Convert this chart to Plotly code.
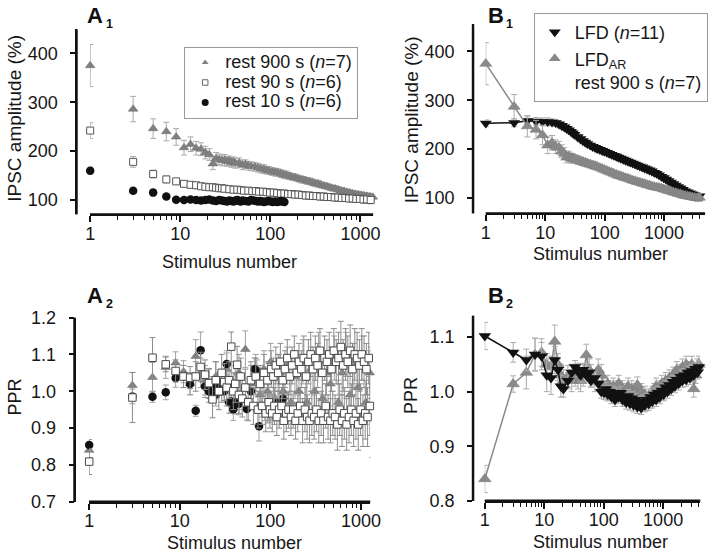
import plotly.graph_objects as go

# ---------------- data ----------------
# Panel A1: IPSC amplitude (%) vs stimulus number
a1_r900_x = [1, 3, 5, 7, 9, 11, 13, 15, 17, 19, 21, 23, 25, 27, 29, 31, 33, 35, 37, 39, 41, 45, 49, 53, 57, 61, 67, 73, 79, 85,
             91, 97, 105, 113, 121, 131, 141, 151, 163, 175, 189, 203, 219, 235, 253, 273, 293, 315, 339, 365, 393, 423, 455,
             489, 527, 567, 611, 657, 707, 761, 819, 881, 949, 1021, 1099, 1183, 1273, 1371]
a1_r900_y = [375, 286, 246, 240, 229, 207, 214, 206, 204, 197, 193, 174, 185, 183, 181, 182, 179, 180, 177, 178, 175, 176, 172,
             173, 170, 169, 168, 166, 164, 163, 161, 160, 158, 157, 156, 154, 152, 151, 149, 147, 146, 144, 142, 141, 139, 138,
             136, 134, 133, 131, 129, 128, 126, 124, 123, 121, 119, 118, 116, 115, 113, 112, 111, 110, 109, 108, 107, 106]
a1_r900_e = [43, 26, 20, 19, 17, 15, 15, 14, 13, 13, 12, 12, 12, 11, 11, 11, 10, 10, 10, 10, 10, 10, 10, 9, 9, 9, 9, 9, 9, 9,
             8, 8, 8, 8, 8, 8, 8, 8, 7, 7, 7, 7, 7, 7, 7, 7, 7, 7, 7, 6, 6, 6, 6, 6, 6, 6, 6, 6, 6, 6, 6, 6, 6, 6, 6, 6, 6, 6]

a1_r90_x = [1, 3, 5, 7, 9, 11, 13, 15, 17, 19, 21, 23, 25, 27, 29, 31, 35, 39, 43, 47, 51, 57, 63, 69, 75, 83, 91, 99, 109,
            119, 131, 143, 157, 171, 187, 205, 225, 247, 271, 297, 325, 357, 391, 429, 471, 517, 567, 621, 681, 747, 819,
            899, 985, 1081, 1185, 1299]
a1_r90_y = [242, 178, 153, 142, 138, 133, 131, 130, 128, 127, 126, 126, 125, 124, 124, 123, 122, 121, 121, 120, 119, 119, 118,
            118, 117, 117, 116, 115, 115, 114, 113, 113, 112, 112, 111, 111, 110, 109, 109, 108, 108, 107, 107, 106, 106, 105,
            105, 104, 104, 103, 103, 102, 102, 101, 101, 100]
a1_r90_e = [16, 11, 8, 7, 6, 6, 6, 6, 6, 6, 6, 6, 6, 6, 6, 6, 6, 6, 6, 6, 6, 6, 6, 6, 6, 6, 7, 7, 7, 7, 7, 7, 7, 7, 7, 7,
            7, 7, 7, 7, 7, 7, 7, 7, 7, 7, 7, 7, 7, 7, 7, 7, 7, 8, 8, 8]

a1_r10_x = [1, 3, 5, 7, 9, 11, 13, 15, 17, 19, 21, 23, 25, 27, 29, 31, 33, 35, 37, 39, 41, 43, 45, 47, 49, 53, 57, 61, 65, 69,
            73, 77, 81, 85, 89, 95, 101, 107, 113, 119, 125, 131, 137, 143]
a1_r10_y = [160, 119, 115, 107, 100.5, 100, 101, 100, 99, 100, 101, 99, 98, 100, 99, 98, 97, 99, 98, 97, 99, 100, 98, 97, 99,
            98, 97, 100, 99, 98, 97, 98, 97, 96, 97, 98, 97, 96, 97, 96, 97, 98, 97, 96]
a1_r10_e = [7, 5, 4, 4, 4, 3, 3, 3, 3, 3, 3, 3, 3, 3, 3, 3, 3, 3, 3, 3, 3, 3, 3, 3, 3, 3, 3, 3, 3, 3, 3, 3, 3, 3, 3, 3, 3,
            3, 3, 3, 3, 3, 3, 3]

# Panel B1
b_x = [1, 3, 5, 7, 9, 11, 13, 15, 17, 19, 21, 23, 25, 27, 29, 31, 35, 39, 43, 47, 51, 57, 63, 69, 75, 83, 91, 99, 109, 119,
       131, 143, 157, 171, 187, 205, 225, 247, 271, 297, 325, 357, 391, 429, 471, 517, 567, 621, 681, 747, 819, 899, 985,
       1081, 1185, 1299, 1425, 1563, 1713, 1879, 2061, 2259, 2477, 2717, 2979, 3267, 3583, 3929]
b1_lfd_y = [253, 254, 258, 257, 256, 256, 255, 254, 251, 248, 245, 242, 239, 236, 233, 230, 225, 221, 217, 214, 211, 208, 205,
            203, 201, 199, 197, 195, 193, 191, 189, 187, 185, 183, 181, 179, 177, 175, 173, 171, 169, 167, 165, 163, 161,
            159, 157, 155, 152, 150, 147, 144, 141, 138, 135, 132, 129, 126, 123, 120, 117, 114, 112, 110, 108, 106, 105, 104]
b1_lfd_e = [7, 8, 8, 8, 8, 8, 7, 7, 7, 7, 7, 6, 6, 6, 6, 6, 6, 6, 6, 6, 5, 5, 5, 5, 5, 5, 5, 5, 5, 5, 5, 5, 5, 5, 5, 5, 5,
            5, 5, 5, 5, 5, 5, 5, 5, 5, 5, 5, 5, 5, 5, 5, 5, 5, 5, 5, 5, 5, 5, 5, 5, 5, 5, 5, 5, 5, 5, 5]
b1_ar_y = [375, 287, 247, 240, 229, 208, 213, 205, 203, 196, 191, 183, 185, 182, 181, 180, 178, 176, 174, 172, 171, 169, 167,
           166, 164, 162, 160, 158, 156, 154, 152, 150, 148, 146, 145, 143, 141, 140, 138, 136, 135, 133, 132, 130, 129, 127,
           126, 124, 123, 122, 121, 120, 118, 117, 115, 114, 112, 111, 109, 108, 106, 105, 104, 103, 102, 101, 100, 101]
b1_ar_e = [43, 25, 22, 19, 20, 17, 15, 14, 13, 13, 12, 11, 11, 10, 10, 9, 9, 8, 8, 8, 7, 7, 7, 7, 6, 6, 6, 6, 6, 6, 6, 6, 6,
           6, 6, 6, 6, 6, 6, 6, 6, 6, 6, 6, 6, 6, 6, 6, 6, 6, 6, 6, 6, 6, 6, 6, 6, 6, 6, 6, 6, 6, 6, 6, 6, 6, 7, 8]

# Panel A2: PPR
a2_r900_x = [1, 3, 5, 7, 9, 11, 13, 15, 17, 19, 21, 25, 29, 33, 37, 41, 45,
             53, 61, 69, 77, 85, 93, 101, 113, 125, 139, 153, 169, 187, 207, 229, 253, 279, 309, 341, 377, 417, 461, 509,
             563, 621, 687, 759, 839, 927, 1025, 1133, 1251, 1361]
a2_r900_y = [0.840, 1.016, 1.038, 1.065, 1.077, 1.053, 1.021, 1.095, 1.05, 1.03, 1.02, 1.04, 1.01, 1.06, 1.03, 1.0, 1.05,
             1.114, 1.02, 1.05, 0.99, 1.06, 1.0, 1.08, 0.98, 1.05, 1.0, 1.07, 0.97, 1.04, 1.0, 1.08, 0.97, 1.06, 1.0, 1.1,
             0.98, 1.05, 1.02, 1.09, 0.97, 1.05, 1.1, 0.99, 1.07, 1.01, 1.09, 0.97, 1.05, 1.08]
a2_r900_e = [0.02, 0.035, 0.04, 0.03, 0.03, 0.03, 0.03, 0.045, 0.04, 0.04, 0.04, 0.04, 0.04, 0.05, 0.05, 0.05, 0.05,
             0.05, 0.05, 0.05, 0.05, 0.05, 0.05, 0.05, 0.05, 0.05, 0.05, 0.05, 0.06, 0.06, 0.06, 0.06, 0.06, 0.06, 0.06,
             0.06, 0.06, 0.06, 0.06, 0.06, 0.06, 0.06, 0.06, 0.06, 0.06, 0.06, 0.06, 0.06, 0.06, 0.06]

a2_r10_x = [1, 3, 5, 7, 9, 11, 13, 15, 17, 19, 21, 23, 25, 27, 29, 31, 33, 35, 37, 39, 41, 45, 49, 55, 61, 67, 71, 75, 81,
            87, 93, 99, 105, 111, 121, 131, 139]
a2_r10_y = [0.854, 0.986, 0.985, 0.997, 1.036, 1.04, 1.02, 0.947, 1.111, 1.013, 1.0, 1.01, 0.99, 1.02, 1.0, 1.0, 1.074,
            0.97, 0.972, 0.951, 0.968, 0.966, 0.98, 0.952, 1.0, 1.06, 1.055, 0.905, 0.96, 0.95, 0.944, 0.945, 0.955,
            0.954, 0.97, 0.96, 0.98]
a2_r10_e = [0.015, 0.02, 0.015, 0.02, 0.025, 0.03, 0.03, 0.015, 0.05, 0.03, 0.03, 0.03, 0.03, 0.03, 0.03, 0.03, 0.03, 0.03,
            0.03, 0.03, 0.03, 0.03, 0.03, 0.03, 0.03, 0.03, 0.03, 0.04, 0.03, 0.03, 0.03, 0.03, 0.03, 0.03, 0.03, 0.03, 0.03]

a2_r90_x = [1, 3, 5, 7, 9, 11, 13, 15, 17, 19, 21, 23, 25, 27, 29, 31, 33, 35, 37, 39, 41, 43, 45, 47, 49,
            53, 57, 61, 65, 69, 73, 77, 81, 85, 89,
            93, 96, 99, 102, 105, 108, 111, 115, 118, 122,
            125, 129, 133, 137, 141, 145, 150, 154, 159, 164,
            169, 174, 179, 184, 190, 196, 201, 207, 214, 220,
            227, 234, 241, 248, 255, 263, 271, 279, 287, 296,
            305, 314, 323, 333, 343, 353, 364, 375, 386, 397,
            409, 422, 434, 447, 461, 474, 489, 503, 518, 534,
            550, 566, 583, 601, 619, 637, 656, 676, 696, 717,
            739, 761, 784, 807, 831, 856, 882, 908, 935, 963,
            992, 1022, 1053, 1084, 1117, 1150, 1185, 1220, 1257, 1294,
            1333, 1373]
a2_r90_y = [0.809, 0.983, 1.091, 1.073, 1.055, 1.04, 1.037, 1.04, 1.066, 1.045, 1.022, 0.978, 1.03, 1.0, 1.05, 1.025, 1.01,
            1.03, 1.121, 1.0, 1.02, 1.072, 0.99, 1.04, 0.98,
            1.01, 0.97, 1.03, 0.96, 1.04, 0.95, 1.02, 0.96, 1.05, 0.94,
            1.03, 0.97, 0.95, 1.06, 0.94, 1.04, 0.96, 1.07, 0.93, 1.05,
            0.95, 1.08, 0.96, 1.03, 0.92, 1.06, 0.94, 1.09, 0.95, 1.04,
            0.93, 1.07, 0.95, 1.10, 0.92, 1.05, 0.94, 1.08, 0.96, 1.06,
            0.92, 1.09, 0.95, 1.04, 0.93, 1.08, 0.92, 1.10, 0.94, 1.06,
            0.93, 1.09, 0.95, 1.07, 0.92, 1.11, 0.94, 1.05, 0.92, 1.09,
            0.96, 1.08, 0.93, 1.10, 0.92, 1.06, 0.94, 1.11, 0.93, 1.08,
            0.91, 1.09, 0.95, 1.12, 0.92, 1.07, 0.94, 1.10, 0.91, 1.08,
            0.93, 1.11, 0.95, 1.06, 0.92, 1.10, 0.94, 1.09, 0.91, 1.07,
            0.95, 1.10, 0.92, 1.08, 0.94, 1.06, 0.93, 1.09, 0.96, 1.05,
            0.90, 1.04]
a2_r90_e = [0.035, 0.068, 0.055, 0.02, 0.03, 0.03, 0.03, 0.04, 0.04, 0.04, 0.04, 0.05, 0.05, 0.05, 0.05, 0.05, 0.05, 0.05,
            0.04, 0.05, 0.05, 0.05, 0.05, 0.05, 0.05,
            0.05, 0.05, 0.05, 0.05, 0.05, 0.05, 0.05, 0.05, 0.05, 0.05,
            0.05, 0.05, 0.05, 0.05, 0.05, 0.05, 0.05, 0.05, 0.05, 0.05,
            0.05, 0.05, 0.05, 0.05, 0.05, 0.05, 0.05, 0.05, 0.05, 0.05,
            0.05, 0.05, 0.05, 0.05, 0.05, 0.05, 0.05, 0.05, 0.05, 0.05,
            0.06, 0.06, 0.06, 0.06, 0.06, 0.06, 0.06, 0.06, 0.06, 0.06,
            0.06, 0.06, 0.06, 0.06, 0.06, 0.06, 0.06, 0.06, 0.06, 0.06,
            0.06, 0.06, 0.06, 0.06, 0.06, 0.06, 0.06, 0.06, 0.06, 0.06,
            0.07, 0.07, 0.07, 0.07, 0.07, 0.07, 0.07, 0.07, 0.07, 0.07,
            0.07, 0.07, 0.07, 0.07, 0.07, 0.07, 0.07, 0.07, 0.07, 0.07,
            0.07, 0.07, 0.07, 0.07, 0.07, 0.07, 0.08, 0.07, 0.08, 0.07,
            0.08, 0.07]

# Panel B2: PPR
b2_x = [1, 3, 5, 7, 9, 11, 13, 15, 17, 19, 21, 25, 29, 33, 37, 41, 45, 51, 57, 61, 71, 81, 91,
        101, 109, 117, 125, 135, 145, 155, 167, 179, 193, 207, 223, 239, 257, 277, 297, 319, 343, 369, 397, 427, 459,
        493, 531, 571, 613, 659, 709, 763, 821, 883, 949, 1021, 1097, 1181, 1269, 1365, 1469, 1579, 1699, 1827, 1965,
        2113, 2273, 2445, 2629, 2829, 3041, 3271, 3519, 3785, 4000]
b2_lfd_y = [1.102, 1.072, 1.058, 1.068, 1.065, 1.03, 1.025, 1.058, 1.04, 1.01, 1.005, 1.02, 1.035, 1.045, 1.04, 1.03, 1.04,
            1.03, 1.035, 1.02, 1.025, 1.015, 1.0,
            0.998, 1.005, 0.995, 1.0, 0.99, 0.998, 0.985, 0.995, 0.99, 0.998, 0.985, 0.99, 0.98, 0.992, 0.978, 0.988,
            0.975, 0.985, 0.972, 0.98, 0.97, 0.982, 0.975, 0.985, 0.978, 0.99, 0.982, 0.995, 0.985, 0.998, 0.99, 1.002,
            0.995, 1.008, 1.0, 1.012, 1.005, 1.018, 1.01, 1.022, 1.015, 1.028, 1.02, 1.03, 1.022, 1.035, 1.025, 1.038,
            1.03, 1.042, 1.035, 1.045]
b2_lfd_e = [0.025, 0.018, 0.02, 0.03, 0.025, 0.03, 0.03, 0.025, 0.02, 0.02, 0.015, 0.015, 0.015, 0.012, 0.012, 0.012, 0.012,
            0.012, 0.012, 0.012, 0.012, 0.012, 0.012,
            0.012, 0.012, 0.012, 0.012, 0.012, 0.012, 0.012, 0.012, 0.012, 0.012, 0.012, 0.012, 0.012, 0.012, 0.012,
            0.012, 0.012, 0.012, 0.012, 0.012, 0.012, 0.012, 0.012, 0.012, 0.012, 0.012, 0.012, 0.012, 0.012, 0.012,
            0.012, 0.012, 0.012, 0.012, 0.012, 0.012, 0.012, 0.012, 0.012, 0.012, 0.012, 0.012, 0.012, 0.012, 0.012,
            0.012, 0.012, 0.012, 0.012, 0.012, 0.012, 0.012]
b2_ar_y = [0.84, 1.014, 1.035, 1.068, 1.072, 1.05, 1.045, 1.092, 1.05, 1.03, 1.02, 1.028, 1.02, 1.03, 1.025, 1.02, 1.03,
           1.067, 1.04, 1.03, 1.02, 1.04, 1.03,
           1.01, 1.0, 1.015, 1.005, 1.0, 1.01, 0.995, 1.005, 1.015, 1.0, 1.005, 0.99, 1.0, 1.01, 0.995, 1.005, 0.99, 1.0,
           1.012, 0.995, 1.0, 0.985, 0.995, 0.98, 0.99, 0.985, 0.995, 1.0, 1.01, 0.995, 1.005, 1.015, 1.0, 1.02, 1.01,
           1.025, 1.015, 1.03, 1.02, 1.04, 1.025, 1.035, 1.045, 1.03, 1.05, 1.04, 1.035, 1.05, 1.005, 1.03, 1.045, 1.05]
b2_ar_e = [0.025, 0.015, 0.03, 0.03, 0.025, 0.02, 0.02, 0.03, 0.02, 0.02, 0.02, 0.02, 0.02, 0.02, 0.02, 0.02, 0.02, 0.02,
           0.02, 0.02, 0.02, 0.02, 0.02,
           0.015, 0.015, 0.015, 0.015, 0.015, 0.015, 0.015, 0.015, 0.015, 0.015, 0.015, 0.015, 0.015, 0.015, 0.015,
           0.015, 0.015, 0.015, 0.015, 0.015, 0.015, 0.015, 0.015, 0.015, 0.015, 0.015, 0.015, 0.015, 0.015, 0.015,
           0.015, 0.015, 0.015, 0.015, 0.015, 0.015, 0.015, 0.015, 0.015, 0.015, 0.015, 0.015, 0.015, 0.015, 0.015,
           0.015, 0.015, 0.015, 0.015, 0.015, 0.015, 0.015]

x_tickvals = [1, 10, 100, 1000]
x_ticktext = ["1", "10", "100", "1000"]
x_minor = [2, 3, 4, 5, 6, 7, 8, 9, 20, 30, 40, 50, 60, 70, 80, 90, 200, 300, 400, 500, 600, 700, 800, 900, 2000, 3000,
           4000, 5000]
amp_ticks = [100, 200, 300, 400]
amp_ticktext = ["100", "200", "300", "400"]
a2_ticks = [0.7, 0.8, 0.9, 1.0, 1.1, 1.2]
a2_ticktext = ["0.7", "0.8", "0.9", "1.0", "1.1", "1.2"]
b2_ticks = [0.8, 0.9, 1.0, 1.1]
b2_ticktext = ["0.8", "0.9", "1.0", "1.1"]

legend_a1 = ["rest 900 s (<i>n</i>=7)", "rest 90 s (<i>n</i>=6)", "rest 10 s (<i>n</i>=6)"]
legend_b1 = ["LFD (<i>n</i>=11)", "LFD<sub>AR</sub><br>rest 900 s (<i>n</i>=7)"]

# ---------------- style ----------------
W, H = 720, 559
FONT = "Liberation Sans, Arial, sans-serif"
GRAY = "#808080"
ERR = "#ababab"
TXT = "#161616"
AXIS = "#111111"
PAD = "\u2002"  # spacing between y tick labels and ticks


def px(p):
    return p / W


def py(p):
    return 1 - p / H


def err(arr, color=ERR):
    return dict(type="data", array=arr, color=color, thickness=1, width=3)


fig = go.Figure()


def sc(**kw):
    kw.setdefault("cliponaxis", False)
    fig.add_trace(go.Scatter(**kw))


# A1
sc(x=a1_r900_x, y=a1_r900_y, mode="markers", error_y=err(a1_r900_e),
   marker=dict(symbol="triangle-up", size=8.5, color=GRAY, line=dict(width=0.5, color="#6a6a6a")),
   xaxis="x", yaxis="y", showlegend=False)
sc(x=a1_r90_x, y=a1_r90_y, mode="markers", error_y=err(a1_r90_e),
   marker=dict(symbol="square", size=7, color="white", line=dict(width=1, color="#555555")),
   xaxis="x", yaxis="y", showlegend=False)
sc(x=a1_r10_x, y=a1_r10_y, mode="markers", error_y=err(a1_r10_e),
   marker=dict(symbol="circle", size=8.5, color="#111111"), xaxis="x", yaxis="y", showlegend=False)
# A1 legend entries
LSPAN = "<span style='font-size:18px'>%s</span>"
sc(x=[None], y=[None], mode="markers", name=LSPAN % legend_a1[0],
   marker=dict(symbol="triangle-up", size=6, color=GRAY), xaxis="x", yaxis="y", legend="legend")
sc(x=[None], y=[None], mode="markers", name=LSPAN % legend_a1[1],
   marker=dict(symbol="square", size=5.5, color="white", line=dict(width=1, color="#666666")),
   xaxis="x", yaxis="y", legend="legend")
sc(x=[None], y=[None], mode="markers", name=LSPAN % legend_a1[2],
   marker=dict(symbol="circle", size=7, color="#111111"), xaxis="x", yaxis="y", legend="legend")

# B1
sc(x=b_x, y=b1_lfd_y, mode="lines+markers", error_y=err(b1_lfd_e), line=dict(color="#111111", width=1.5),
   marker=dict(symbol="triangle-down", size=10.5, color="#111111"), xaxis="x2", yaxis="y2", showlegend=False)
sc(x=b_x, y=b1_ar_y, mode="lines+markers", error_y=err(b1_ar_e), line=dict(color="#8a8a8a", width=1.5),
   marker=dict(symbol="triangle-up", size=10.5, color="#8a8a8a", line=dict(width=0.5, color="#777777")),
   xaxis="x2", yaxis="y2", showlegend=False)
sc(x=[None], y=[None], mode="markers", name=legend_b1[0],
   marker=dict(symbol="triangle-down", size=10.5, color="#111111"), xaxis="x2", yaxis="y2", legend="legend2")
sc(x=[None], y=[None], mode="markers", name=legend_b1[1],
   marker=dict(symbol="triangle-up", size=10.5, color="#8a8a8a"), xaxis="x2", yaxis="y2", legend="legend2")

# A2
sc(x=a2_r900_x, y=a2_r900_y, mode="markers", error_y=err(a2_r900_e, "#a0a0a0"),
   marker=dict(symbol="triangle-up", size=8.5, color=GRAY, line=dict(width=0.5, color="#6a6a6a")),
   xaxis="x3", yaxis="y3", showlegend=False)
sc(x=a2_r10_x, y=a2_r10_y, mode="markers", error_y=err(a2_r10_e, "#a0a0a0"),
   marker=dict(symbol="circle", size=8.5, color="#111111"), xaxis="x3", yaxis="y3", showlegend=False)
sc(x=a2_r90_x, y=a2_r90_y, mode="markers", error_y=err(a2_r90_e, "#8c8c8c"),
   marker=dict(symbol="square", size=7.5, color="white", line=dict(width=1, color="#4a4a4a")),
   xaxis="x3", yaxis="y3", showlegend=False)

# B2
sc(x=b2_x, y=b2_ar_y, mode="lines+markers", error_y=err(b2_ar_e), line=dict(color="#8a8a8a", width=1.5),
   marker=dict(symbol="triangle-up", size=11, color="#8a8a8a", line=dict(width=0.5, color="#777777")),
   xaxis="x4", yaxis="y4", showlegend=False)
sc(x=b2_x, y=b2_lfd_y, mode="lines+markers", error_y=err(b2_lfd_e), line=dict(color="#111111", width=1.5),
   marker=dict(symbol="triangle-down", size=11, color="#111111"), xaxis="x4", yaxis="y4", showlegend=False)

# panel frames in figure pixels: (y-axis x, x-axis start, x-axis end, top, bottom)
frames = [(73, 86.8, 376, 20, 212), (478, 490.9, 715, 15, 211), (71, 85.8, 373, 319, 510), (478, 489.9, 710, 317, 509)]

# axis lines drawn on a full-figure overlay axis measured in figure pixels
for yx, x0, x1, top, bot in frames:
    fig.add_trace(go.Scatter(x=[x0, x1, None, yx, yx], y=[bot, bot, None, bot, top], mode="lines",
                             line=dict(color=AXIS, width=2.5), xaxis="x5", yaxis="y5", showlegend=False,
                             hoverinfo="skip", cliponaxis=False))

tickfont = dict(family=FONT, size=18, color=TXT)


def xax(domain, rng, anchor):
    return dict(type="log", domain=domain, range=rng, anchor=anchor, showline=True, linecolor=AXIS, linewidth=2,
                showgrid=False, zeroline=False,
                tickmode="array", tickvals=x_tickvals, ticktext=x_ticktext, ticks="outside", ticklen=6, tickwidth=1.5,
                tickcolor=AXIS, tickfont=tickfont, ticklabelstandoff=-4,
                minor=dict(tickmode="array", tickvals=x_minor, ticks="outside", ticklen=4, tickwidth=1,
                           tickcolor=AXIS, showgrid=False))


def yax(domain, rng, position, vals, text):
    return dict(domain=domain, range=rng, anchor="free", position=position, showline=True, linecolor=AXIS,
                linewidth=2, showgrid=False, zeroline=False, tickmode="array", tickvals=vals,
                ticktext=[t + PAD for t in text], ticks="outside", ticklen=5, tickwidth=1.5, tickcolor=AXIS,
                tickfont=tickfont)


fig.update_layout(
    width=W, height=H, margin=dict(l=0, r=0, t=0, b=0),
    paper_bgcolor="white", plot_bgcolor="rgba(0,0,0,0)",
    font=dict(family=FONT, size=18, color=TXT),
    xaxis=xax([px(86.8), px(376)], [-0.002, 3.141], "y"),
    yaxis=yax([py(212), py(20)], [70.4, 449.3], px(73), amp_ticks, amp_ticktext),
    xaxis2=xax([px(490.9), px(715)], [-0.002, 3.69], "y2"),
    yaxis2=yax([py(211), py(15)], [68.4, 455.3], px(478), amp_ticks, amp_ticktext),
    xaxis3=xax([px(85.8), px(373)], [-0.002, 3.103], "y3"),
    yaxis3=yax([py(510), py(319)], [0.7, 1.2], px(71), a2_ticks, a2_ticktext),
    xaxis4=xax([px(489.9), px(710)], [-0.002, 3.624], "y4"),
    yaxis4=yax([py(509), py(317)], [0.8, 1.1393], px(478), b2_ticks, b2_ticktext),
    xaxis5=dict(domain=[0, 1], range=[0, W], anchor="y5", visible=False, fixedrange=True),
    yaxis5=dict(domain=[0, 1], range=[H, 0], anchor="x5", visible=False, fixedrange=True),
    legend=dict(x=px(183), y=py(38), xanchor="left", yanchor="top", bgcolor="white", bordercolor="#9a9a9a",
                borderwidth=1, font=dict(family=FONT, size=13, color=TXT), tracegroupgap=0),
    legend2=dict(x=px(540), y=py(3), xanchor="left", yanchor="top", bgcolor="white", bordercolor="#9a9a9a",
                 borderwidth=1, font=dict(family=FONT, size=18, color=TXT), valign="top", tracegroupgap=0),
)

ann = []
# panel labels
for label, sub, x, y in [("A", "1", 83, 6), ("B", "1", 492, 6), ("A", "2", 83, 296), ("B", "2", 492, 296)]:
    ann.append(dict(text="<b>%s</b>" % label, x=px(x - 1), y=py(y), xref="paper", yref="paper", xanchor="left",
                    yanchor="middle", showarrow=False, font=dict(family=FONT, size=22, color="#111111")))
    ann.append(dict(text="<b>%s</b>" % sub, x=px(x + 18), y=py(y + 9), xref="paper", yref="paper", xanchor="left",
                    yanchor="middle", showarrow=False, font=dict(family=FONT, size=12.5, color="#111111")))
# axis titles
for text, x, y in [("Stimulus number", 229, 261), ("Stimulus number", 608, 253), ("Stimulus number", 234, 553),
                   ("Stimulus number", 608, 552)]:
    ann.append(dict(text=text, x=px(x), y=py(y), xref="paper", yref="paper", xanchor="center", yanchor="middle",
                    showarrow=False, font=dict(family=FONT, size=18, color=TXT)))
for text, x, y in [("IPSC amplitude (%)", 10, 112), ("IPSC amplitude (%)", 416, 114), ("PPR", 10, 401),
                   ("PPR", 414, 400)]:
    ann.append(dict(text=text, x=px(x), y=py(y), xref="paper", yref="paper", xanchor="center", yanchor="middle",
                    textangle=-90, showarrow=False, font=dict(family=FONT, size=19 if "IPSC" in text else 18,
                                                              color=TXT)))
fig.update_layout(annotations=ann)

fig.write_html("out.html", config={"displayModeBar": False},
               post_script="document.body.style.margin='0px';")
